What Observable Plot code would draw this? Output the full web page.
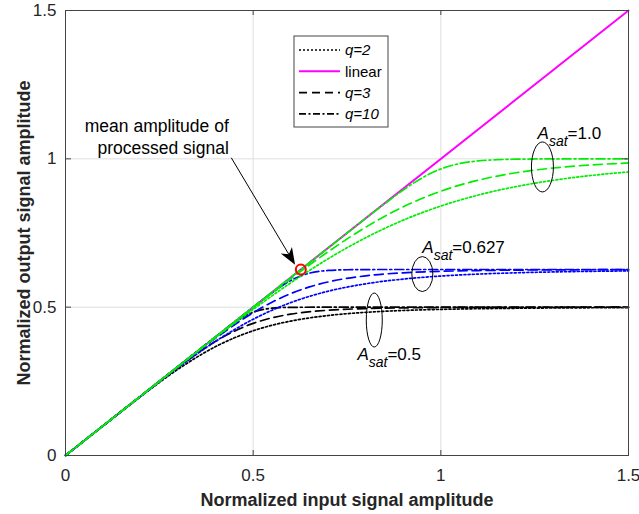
<!DOCTYPE html>
<html>
<head>
<meta charset="utf-8">
<script src="https://cdn.jsdelivr.net/npm/d3@7"></script>
<script src="https://cdn.jsdelivr.net/npm/@observablehq/plot@0.6"></script>
<style>
  html, body { margin: 0; padding: 0; background: #ffffff; }
  #chart { width: 639px; height: 514px; }
</style>
</head>
<body>
<div id="chart"></div>
<script>
// ---------- axis texts ----------
const xTicks = [0, 0.5, 1, 1.5];
const yTicks = [0, 0.5, 1, 1.5];
const tickLabels = ["0", "0.5", "1", "1.5"];
const xLabel = "Normalized input signal amplitude";
const yLabel = "Normalized output signal amplitude";
const legendLabels = ["q=2", "linear", "q=3", "q=10"];

// ---------- linear reference ----------
const xLinear = [0, 1.5];
const yLinear = [0, 1.5];

// ---------- A_sat = 0.5 (black) ----------
const xA05 = [0, 0.1, 0.2, 0.3, 0.4, 0.45, 0.5, 0.55, 0.6, 0.7, 0.8, 0.9, 1.0, 1.1, 1.2, 1.3, 1.4, 1.5];
const yA05q2 = [0, 0.1000, 0.1987, 0.2910, 0.3671, 0.3967, 0.4204, 0.4390, 0.4531, 0.4719, 0.4826, 0.4888, 0.4925, 0.4948, 0.4963, 0.4973, 0.4980, 0.4985];
const yA05q3 = [0, 0.1000, 0.1999, 0.2977, 0.3848, 0.4191, 0.4454, 0.4641, 0.4765, 0.4897, 0.4952, 0.4976, 0.4988, 0.4993, 0.4996, 0.4998, 0.4999, 0.4999];
const xA05q10 = [0, 0.3, 0.35, 0.4, 0.45, 0.5, 0.55, 0.6, 0.7, 0.8, 1.0, 1.5];
const yA05q10 = [0, 0.3000, 0.3500, 0.3998, 0.4474, 0.4830, 0.4965, 0.4994, 0.5000, 0.5000, 0.5000, 0.5000];

// ---------- A_sat = 0.627 (blue) ----------
const xA0627 = [0, 0.1, 0.2, 0.3, 0.4, 0.5, 0.55, 0.6, 0.65, 0.7, 0.8, 0.9, 1.0, 1.1, 1.2, 1.3, 1.4, 1.5];
const yA0627q2 = [0, 0.1000, 0.1995, 0.2962, 0.3850, 0.4593, 0.4896, 0.5153, 0.5365, 0.5538, 0.5788, 0.5947, 0.6049, 0.6115, 0.6158, 0.6188, 0.6208, 0.6223];
const yA0627q3 = [0, 0.1000, 0.2000, 0.2994, 0.3957, 0.4813, 0.5166, 0.5457, 0.5682, 0.5850, 0.6056, 0.6158, 0.6209, 0.6235, 0.6249, 0.6257, 0.6262, 0.6265];
const xA0627q10 = [0, 0.4, 0.5, 0.55, 0.6, 0.65, 0.7, 0.75, 0.8, 0.9, 1.0, 1.5];
const yA0627q10 = [0, 0.4000, 0.4997, 0.5481, 0.5897, 0.6147, 0.6237, 0.6261, 0.6268, 0.6270, 0.6270, 0.6270];

// ---------- A_sat = 1.0 (green) ----------
const xA1 = [0, 0.1, 0.2, 0.3, 0.4, 0.5, 0.6, 0.7, 0.8, 0.9, 1.0, 1.1, 1.2, 1.3, 1.4, 1.5];
const yA1q2 = [0, 0.1000, 0.1999, 0.2994, 0.3975, 0.4925, 0.5820, 0.6633, 0.7342, 0.7934, 0.8409, 0.8780, 0.9063, 0.9277, 0.9438, 0.9559];
const yA1q3 = [0, 0.1000, 0.2000, 0.3000, 0.3997, 0.4987, 0.5955, 0.6872, 0.7696, 0.8383, 0.8909, 0.9281, 0.9530, 0.9691, 0.9794, 0.9861];
const xA1q10 = [0, 0.7, 0.75, 0.8, 0.85, 0.9, 0.95, 1.0, 1.05, 1.1, 1.15, 1.2, 1.3, 1.5];
const yA1q10 = [0, 0.7000, 0.7499, 0.7995, 0.8484, 0.8949, 0.9356, 0.9659, 0.9841, 0.9931, 0.9970, 0.9987, 0.9998, 1.0000];

// ---------- annotations (data units) ----------
const satValues = ["1.0", "0.627", "0.5"];
const satLabelX = [1.259, 0.952, 0.779];
const satLabelY = [1.065, 0.681, 0.320];
const ellipseX = [1.272, 0.952, 0.824];
const ellipseY = [0.971, 0.610, 0.455];
const noteText = ["mean amplitude of", "processed signal"];
const noteX = [0.435];
const noteY = [1.078];
const arrowFrom = [0.443, 1.002];
const arrowTo = [0.613, 0.641];
const markerX = [0.627];
const markerY = [0.627];

// ---------- styles ----------
const COLORS = { "0.5": "#000000", "0.627": "#0000ff", "1.0": "#00ee00" };
const DASH = { 2: "2 2.2", 3: "9 5", 10: "9 3 2 3" };
const FONT = "'Liberation Sans', Arial, Helvetica, sans-serif";
const TEXT = "#262626";
const ellipseRx = [11, 10.5, 8];
const ellipseRy = [25, 17.5, 27];

const zip = (xs, ys) => xs.map((x, i) => ({x, y: ys[i]}));

const curves = [
  {sat: "0.5", q: 2, data: zip(xA05, yA05q2)},
  {sat: "0.5", q: 3, data: zip(xA05, yA05q3)},
  {sat: "0.5", q: 10, data: zip(xA05q10, yA05q10)},
  {sat: "0.627", q: 2, data: zip(xA0627, yA0627q2)},
  {sat: "0.627", q: 3, data: zip(xA0627, yA0627q3)},
  {sat: "0.627", q: 10, data: zip(xA0627q10, yA0627q10)},
  {sat: "1.0", q: 2, data: zip(xA1, yA1q2)},
  {sat: "1.0", q: 3, data: zip(xA1, yA1q3)},
  {sat: "1.0", q: 10, data: zip(xA1q10, yA1q10)}
];

function annotate(index, scales) {
  const x = scales.x, y = scales.y;
  const g = d3.create("svg:g").attr("font-family", FONT).attr("text-anchor", "start");
  satValues.forEach((v, i) => {
    g.append("ellipse")
      .attr("cx", x(ellipseX[i])).attr("cy", y(ellipseY[i]))
      .attr("rx", ellipseRx[i]).attr("ry", ellipseRy[i])
      .attr("fill", "none").attr("stroke", "#000").attr("stroke-width", 1);
    const t = g.append("text")
      .attr("x", x(satLabelX[i])).attr("y", y(satLabelY[i]))
      .attr("text-anchor", "start")
      .attr("font-size", 17).attr("fill", "#000");
    t.append("tspan").attr("font-style", "italic").text("A");
    t.append("tspan").attr("font-style", "italic").attr("font-size", 14).attr("dy", 7).text("sat");
    t.append("tspan").attr("dy", -7).text("=" + v);
  });
  // arrow with filled head
  const p0 = [x(arrowFrom[0]), y(arrowFrom[1])];
  const p1 = [x(arrowTo[0]), y(arrowTo[1])];
  const dx = p1[0] - p0[0], dy = p1[1] - p0[1];
  const len = Math.hypot(dx, dy);
  const u = [dx / len, dy / len], n = [-u[1], u[0]];
  const L = 17, W = 6.5;
  const base = [p1[0] - u[0] * L, p1[1] - u[1] * L];
  const notch = [p1[0] - u[0] * L * 0.72, p1[1] - u[1] * L * 0.72];
  g.append("line")
    .attr("x1", p0[0]).attr("y1", p0[1]).attr("x2", notch[0]).attr("y2", notch[1])
    .attr("stroke", "#000").attr("stroke-width", 1);
  g.append("path")
    .attr("d", `M${p1[0]},${p1[1]}L${base[0] + n[0] * W},${base[1] + n[1] * W}L${notch[0]},${notch[1]}L${base[0] - n[0] * W},${base[1] - n[1] * W}Z`)
    .attr("fill", "#000");
  return g.node();
}

function legend() {
  const g = d3.create("svg:g").attr("font-family", FONT).attr("text-anchor", "start");
  const bx = 294, by = 36, bw = 94, bh = 91;
  g.append("rect").attr("x", bx).attr("y", by).attr("width", bw).attr("height", bh)
    .attr("fill", "#fff").attr("stroke", "#444").attr("stroke-width", 1);
  const styles = [
    {stroke: "#000", dash: "2 2", w: 1.6, italic: true},
    {stroke: "#ff00ff", dash: null, w: 2, italic: false},
    {stroke: "#000", dash: "8 5", w: 1.6, italic: true},
    {stroke: "#000", dash: "7 2.5 2 2.5", w: 1.6, italic: true}
  ];
  legendLabels.forEach((lab, i) => {
    const yy = by + 14 + i * 21.3;
    const s = styles[i];
    const ln = g.append("line").attr("x1", bx + 5).attr("x2", bx + 46).attr("y1", yy).attr("y2", yy)
      .attr("stroke", s.stroke).attr("stroke-width", s.w);
    if (s.dash) ln.attr("stroke-dasharray", s.dash);
    g.append("text").attr("x", bx + 51).attr("y", yy).attr("dy", "0.35em")
      .attr("text-anchor", "start")
      .attr("font-size", 15).attr("fill", "#000")
      .attr("font-style", s.italic ? "italic" : "normal").text(lab);
  });
  return g.node();
}

const marks = [
  Plot.gridX(xTicks, {stroke: "#dedede", strokeOpacity: 1}),
  Plot.gridY(yTicks, {stroke: "#dedede", strokeOpacity: 1}),
  Plot.line(zip(xLinear, yLinear), {x: "x", y: "y", stroke: "#ff00ff", strokeWidth: 2})
];
for (const c of curves) {
  marks.push(Plot.line(c.data, {
    x: "x", y: "y", stroke: COLORS[c.sat], strokeWidth: 1.7,
    strokeDasharray: DASH[c.q], curve: "monotone-x"
  }));
}
marks.push(
  Plot.dot(zip(markerX, markerY), {x: "x", y: "y", r: 5, stroke: "#ff0000", strokeWidth: 2, fill: "none"}),
  Plot.text([noteText.join("\n")], {
    x: noteX, y: noteY, text: d => d, textAnchor: "end", fontSize: 17.5,
    lineHeight: 1.27, fill: "#000"
  }),
  annotate,
  legend,
  Plot.frame({stroke: "#444", strokeWidth: 1}),
  // inward ticks (MATLAB style) on all four sides
  Plot.ruleX(xTicks, {stroke: "#444", insetTop: 440}),
  Plot.ruleX(xTicks, {stroke: "#444", insetBottom: 440}),
  Plot.ruleY(yTicks, {stroke: "#444", insetRight: 557}),
  Plot.ruleY(yTicks, {stroke: "#444", insetLeft: 557}),
  Plot.axisX(xTicks, {tickSize: 0, tickPadding: 13, label: null, fontSize: 17, fill: TEXT,
    tickFormat: d => tickLabels[xTicks.indexOf(d)]}),
  Plot.axisY(yTicks, {tickSize: 0, tickPadding: 9, label: null, fontSize: 17, fill: TEXT,
    tickFormat: d => tickLabels[yTicks.indexOf(d)]}),
  Plot.text([xLabel], {frameAnchor: "bottom", dy: 50, textAnchor: "middle", text: d => d, fontSize: 18, fontWeight: "bold", fill: TEXT}),
  Plot.text([yLabel], {frameAnchor: "left", dx: -41, rotate: -90, textAnchor: "middle", text: d => d, fontSize: 18, fontWeight: "bold", fill: TEXT})
);

const chart = Plot.plot({
  width: 639,
  height: 514,
  marginLeft: 65,
  marginRight: 11,
  marginTop: 10,
  marginBottom: 59,
  style: {fontFamily: FONT, fontSize: "17px", background: "#ffffff", color: TEXT},
  x: {domain: [0, 1.5], label: null},
  y: {domain: [0, 1.5], label: null},
  marks
});
document.getElementById("chart").appendChild(chart);
</script>
</body>
</html>
